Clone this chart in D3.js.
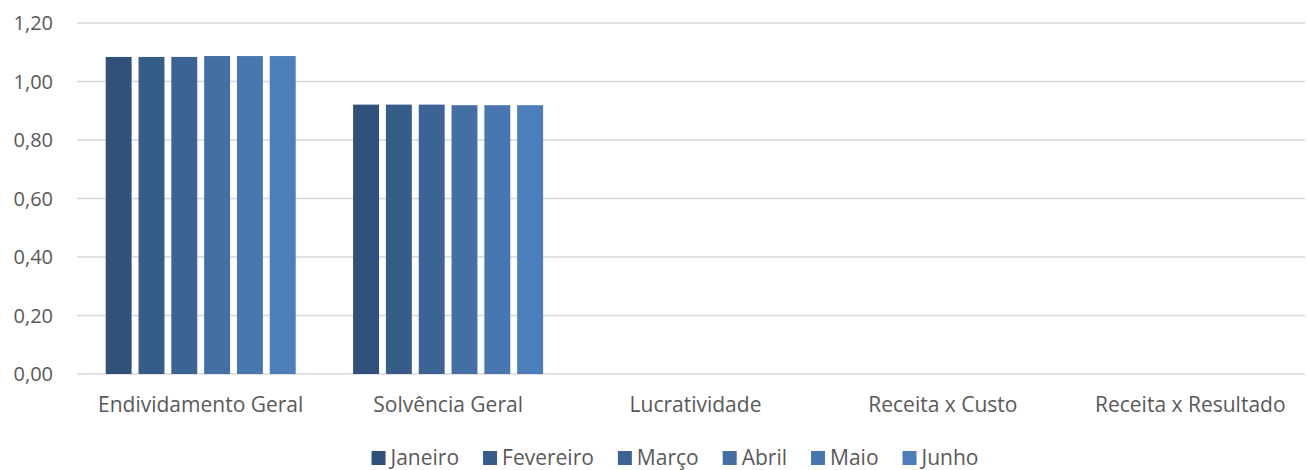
<!DOCTYPE html>
<html>
<head>
<meta charset="utf-8">
<script src="https://cdn.jsdelivr.net/npm/d3@7"></script>
<style>
body { margin: 0; background: #fff; }
text { font-family: "Open Sans", sans-serif; fill: #595959; }
</style>
</head>
<body>
<div id="chart"></div>
<script>
const categories = ["Endividamento Geral", "Solvência Geral", "Lucratividade", "Receita x Custo", "Receita x Resultado"];
const months = ["Janeiro", "Fevereiro", "Março", "Abril", "Maio", "Junho"];
const janeiro = [1.084, 0.921, 0, 0, 0];
const fevereiro = [1.084, 0.921, 0, 0, 0];
const marco = [1.084, 0.921, 0, 0, 0];
const abril = [1.087, 0.919, 0, 0, 0];
const maio = [1.087, 0.919, 0, 0, 0];
const junho = [1.087, 0.919, 0, 0, 0];
const yTicks = [0, 0.2, 0.4, 0.6, 0.8, 1.0, 1.2];
const colors = ["#30527a", "#365c88", "#3b6494", "#436fa4", "#4877b0", "#4c7ebb"];

const series = [janeiro, fevereiro, marco, abril, maio, junho];

let svg_width = 1307, svg_height = 470,
    margin = {top: 23, left: 77},
    width = 1237,      // category bands run slightly past the visible grid
    gridWidth = 1228,
    height = 351;

let svg = d3.select("#chart").append("svg")
    .attr("width", svg_width)
    .attr("height", svg_height);

let g = svg.append("g")
    .attr("transform", "translate(" + margin.left + "," + margin.top + ")");

let x0 = d3.scaleBand()
    .domain(categories)
    .range([0, width])
    .paddingInner(0.232)
    .paddingOuter(0.116);
let x1 = d3.scaleBand()
    .domain(months)
    .range([0, x0.bandwidth()])
    .paddingInner(0.21);
let y = d3.scaleLinear()
    .domain([0, 1.2])
    .range([height, 0]);

const fmt = v => d3.format(".2f")(v).replace(".", ",");

// gridlines
g.selectAll(".grid")
    .data(yTicks)
    .enter().append("line")
    .attr("x1", 0).attr("x2", gridWidth)
    .attr("y1", d => y(d)).attr("y2", d => y(d))
    .attr("stroke", "#d9d9d9")
    .attr("stroke-width", 1.3);

// y labels
g.selectAll(".ylab")
    .data(yTicks)
    .enter().append("text")
    .attr("x", -24)
    .attr("y", d => y(d))
    .attr("dy", "0.35em")
    .attr("text-anchor", "end")
    .style("font-size", "20px")
    .text(fmt);

// bars
categories.forEach((c, ci) => {
    series.forEach((s, si) => {
        if (!s[ci]) return;
        g.append("rect")
            .attr("x", x0(c) + x1(months[si]))
            .attr("y", y(s[ci]))
            .attr("width", x1.bandwidth())
            .attr("height", y(0) - y(s[ci]))
            .attr("fill", colors[si]);
    });
});

// category labels
g.selectAll(".xlab")
    .data(categories)
    .enter().append("text")
    .attr("x", d => x0(d) + x0.bandwidth() / 2)
    .attr("y", height + 31)
    .attr("dy", "0.35em")
    .attr("text-anchor", "middle")
    .style("font-size", "21px")
    .text(d => d);

// legend, laid out from the text widths and centred
let legend = svg.append("g");
let items = months.map((m, i) => {
    let it = legend.append("g");
    it.append("rect")
        .attr("y", 451)
        .attr("width", 14)
        .attr("height", 14)
        .attr("fill", colors[i]);
    let t = it.append("text")
        .attr("x", 19)
        .attr("y", 458)
        .attr("dy", "0.35em")
        .style("font-size", "21px")
        .text(m);
    return {it: it, w: 19 + t.node().getComputedTextLength()};
});
const gap = 24;
let total = d3.sum(items, d => d.w) + gap * (items.length - 1);
let cx = 675 - total / 2;
items.forEach(d => {
    d.it.attr("transform", "translate(" + cx + ",0)");
    cx += d.w + gap;
});
</script>
</body>
</html>
